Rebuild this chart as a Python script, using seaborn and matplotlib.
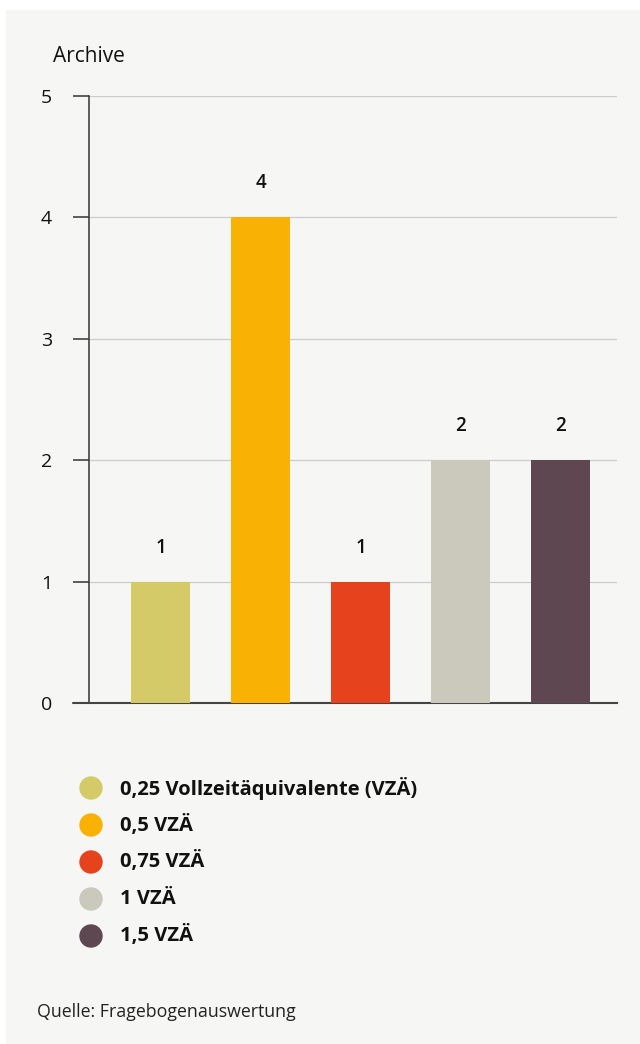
import matplotlib
matplotlib.use("Agg")
import matplotlib.pyplot as plt
from matplotlib.patches import Rectangle, Ellipse
from matplotlib.lines import Line2D
import seaborn as sns
import pandas as pd

# data
categories = ["0,25 Vollzeitäquivalente (VZÄ)", "0,5 VZÄ", "0,75 VZÄ", "1 VZÄ", "1,5 VZÄ"]
counts = [1, 4, 1, 2, 2]
colors = ["#d4cb68", "#f9b104", "#e6421e", "#cbc9bc", "#5e4751"]
yticks = [0, 1, 2, 3, 4, 5]

bg = "#f6f6f4"
W, H = 640, 1044

sns.set_style("white")
plt.rcParams["font.family"] = ["Open Sans", "DejaVu Sans"]

fig = plt.figure(figsize=(W / 100, H / 100), dpi=100, facecolor="white")
# light panel behind everything
fig.patches.append(Rectangle((6 / W, 0), 1 - 6 / W, 1 - 10 / H,
                             transform=fig.transFigure, color=bg, zorder=-10))

ax = fig.add_axes([89 / W, 1 - 703 / H, (617 - 89) / W, (703 - 96) / H])
ax.set_facecolor(bg)

df = pd.DataFrame({"cat": categories, "n": counts})
sns.barplot(data=df, x="cat", y="n", hue="cat", palette=colors, width=0.59,
            legend=False, ax=ax, saturation=1, zorder=3, linewidth=0, edgecolor="none")

ax.set_xlim(-0.715, 4.565)
ax.set_ylim(0, 5)
ax.set_yticks(yticks)
ax.set_yticklabels([str(t) for t in yticks], fontsize=14, color="#111111",
                   fontweight="medium")
ax.tick_params(axis="y", left=True, length=11.5, width=1.1, color="#333333", pad=15)
ax.set_xticks([])
ax.set_xlabel("")
ax.set_ylabel("")
ax.grid(axis="y", color="#cccccc", linewidth=0.9, zorder=0)
for s in ["top", "right"]:
    ax.spines[s].set_visible(False)
ax.spines["left"].set_color("#333333")
ax.spines["left"].set_linewidth(1.1)
ax.spines["bottom"].set_color("#444444")
ax.spines["bottom"].set_linewidth(1.5)

# bottom axis line extends left with the tick
ax.add_line(Line2D([-0.875, -0.715], [0, 0], color="#444444", lw=1.5, clip_on=False))

for i, v in enumerate(counts):
    ax.annotate(str(v), (i, v), xytext=(0, 24.5), textcoords="offset points",
                ha="center", va="center", fontsize=13.5, fontweight="semibold", color="#111111")

fig.text(53 / W, 1 - 57 / H, "Archive", fontsize=15, color="#111111",
         ha="left", va="center", fontweight="medium")

# legend
rows = [788, 825, 862, 899, 936]
for y, c, lab in zip(rows, colors, categories):
    fig.patches.append(Ellipse((91 / W, 1 - y / H), 22 / W, 22 / H,
                               transform=fig.transFigure, color=c))
    fig.text(120 / W, 1 - y / H, lab, fontsize=14.5, fontweight="bold", color="#111111",
             ha="left", va="center")

fig.text(37 / W, 1 - 1012 / H, "Quelle: Fragebogenauswertung", fontsize=12.8,
         color="#222222", ha="left", va="center")

fig.savefig("out.png", dpi=100, facecolor="white")
